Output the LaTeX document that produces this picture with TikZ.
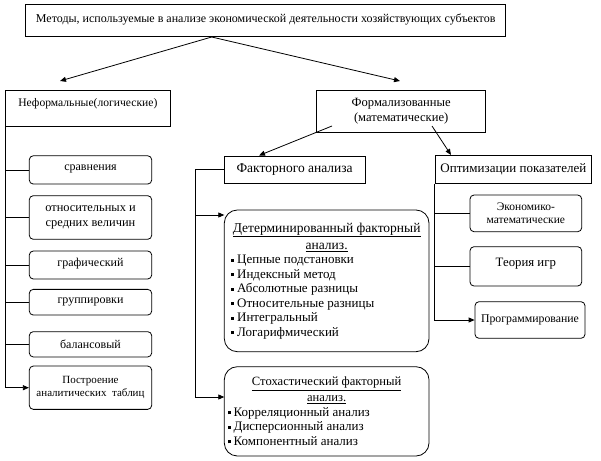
\documentclass[tikz,border=0pt]{standalone}
\usepackage{fontspec}
\setmainfont{Liberation Serif}
\usetikzlibrary{arrows.meta}
\newcommand{\mybul}{\rule[2pt]{3pt}{3pt}\hspace{3pt}}
\begin{document}
\begin{tikzpicture}[x=1pt,y=-1pt,
 box/.style={draw, line width=0.8pt, inner sep=1pt, align=center, font=\fontsize{12}{14.5}\selectfont},
 rbox/.style={box, rounded corners=4pt},
 bigbox/.style={draw, line width=0.8pt, inner sep=1pt, rounded corners=13pt, font=\fontsize{13}{14.5}\selectfont},
 ttl/.style={font=\fontsize{12.8}{16}\selectfont},
 arr/.style={-{Triangle[length=6pt,width=5pt]}},
 ln/.style={line width=0.8pt}]
\useasboundingbox (0,0) rectangle (601,460);
% top
\node[box, minimum width=480pt, minimum height=32.4pt, text depth=5pt] (top) at (265.7,20.5) {Методы, используемые в анализе экономической деятельности хозяйствующих субъектов};
\node[box, minimum width=164.3pt, minimum height=36pt, text depth=12pt, font=\fontsize{11.6}{14}\selectfont] (inf) at (87.85,108) {Неформальные(логические)};
\node[box, minimum width=169pt, minimum height=42pt, font=\fontsize{12.6}{15}\selectfont] (form) at (401.2,111) {Формализованные\\(математические)};
% informal methods
\node[rbox, minimum width=122.4pt, minimum height=28.3pt, text depth=4pt] (sr) at (90.5,169.9) {сравнения};
\node[rbox, minimum width=122.4pt, minimum height=43.6pt, font=\fontsize{12.4}{15}\selectfont] (otn) at (90.5,217.5) {относительных и\\средних величин};
\node[rbox, minimum width=122.4pt, minimum height=28pt, text depth=6pt] (graf) at (90.5,265) {графический};
\node[rbox, minimum width=122.4pt, minimum height=25.7pt] (grup) at (90.5,302.2) {группировки};
\node[rbox, minimum width=122.4pt, minimum height=25.3pt] (bal) at (90.5,344.3) {балансовый};
\node[rbox, minimum width=122.4pt, minimum height=43.3pt, font=\fontsize{11}{13.5}\selectfont] (tab) at (90.5,387.7) {Построение\\аналитических\ \ таблиц};
% factor analysis
\node[box, minimum width=140.7pt, minimum height=27.3pt, font=\fontsize{13.5}{15}\selectfont] (fac) at (294.65,169.65) {Факторного анализа};
\node[bigbox, minimum width=204.7pt, minimum height=141.7pt] (det) at (326.65,280.85) {\parbox{191pt}{\centering{\fontsize{13.5}{17}\selectfont\underline{Детерминированный факторный}\\\underline{анализ.}\par}\raggedright
\mybul Цепные подстановки\\
\mybul Индексный метод\\
\mybul Абсолютные разницы\\
\mybul Относительные разницы\\
\mybul Интегральный\\
\mybul Логарифмический}};
\node[bigbox, minimum width=204.7pt, minimum height=89.3pt] (sto) at (326.65,411.35) {\parbox{198pt}{\centering{\fontsize{12.6}{16}\selectfont\underline{Стохастический факторный}\\\underline{анализ.}\par}\raggedright
\mybul Корреляционный анализ\\
\mybul Дисперсионный анализ\\
\mybul Компонентный анализ}};
% optimisation
\node[box, minimum width=156.7pt, minimum height=28.3pt, font=\fontsize{13}{15}\selectfont] (opt) at (513.35,169.15) {Оптимизации показателей};
\node[rbox, minimum width=111.7pt, minimum height=36.7pt, font=\fontsize{11.5}{13.5}\selectfont] (eco) at (525.85,213.35) {Экономико-\\математические};
\node[rbox, minimum width=111.7pt, minimum height=39.3pt, text depth=9pt, font=\fontsize{12.8}{15}\selectfont] (teo) at (525.85,266.35) {Теория игр};
\node[rbox, minimum width=110pt, minimum height=36.6pt, font=\fontsize{11.8}{13}\selectfont] (prog) at (530,320) {Программирование};
% connectors top
\coordinate (ts) at (211.7,37);
\coordinate (tl) at (60,81);
\coordinate (tr) at (400,81);
\draw[ln,arr] (ts) -- (tl);
\draw[ln,arr] (ts) -- (tr);
\coordinate (fs1) at (332,126);
\coordinate (fe1) at (259,155.5);
\coordinate (fs2) at (432,126);
\coordinate (fe2) at (451,155);
\draw[ln,arr] (fs1) -- (fe1);
\draw[ln,arr] (fs2) -- (fe2);
% left bus
\draw[ln] (inf.south west) |- (sr.west);
\draw[ln] (inf.south west |- otn.west) -- (otn.west);
\draw[ln] (inf.south west |- graf.west) -- (graf.west);
\draw[ln] (inf.south west |- grup.west) -- (grup.west);
\draw[ln] (inf.south west |- bal.west) -- (bal.west);
\draw[ln,arr] (inf.south west) |- (tab.west);
% factor bus
\coordinate (bus) at (195.7,169.65);
\coordinate (detin) at (224.3,215);
\coordinate (stoin) at (224.3,397);
\draw[ln,arr] (fac.west) -- (bus) |- (stoin);
\draw[ln,arr] (bus |- detin) -- (detin);
% optim bus
\draw[ln,arr] (opt.south west) |- (prog.west);
\draw[ln] (opt.south west |- eco.west) -- (eco.west);
\draw[ln] (opt.south west |- teo.west) -- (teo.west);
\end{tikzpicture}
\end{document}
